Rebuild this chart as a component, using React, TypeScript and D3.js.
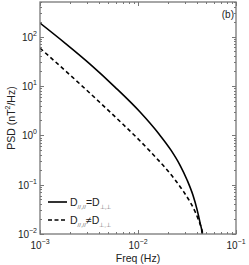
import React from "react";
import * as d3 from "d3";

// solid curve: D//,// = D⊥,⊥
const freqA = [0.001, 0.0018, 0.00324, 0.00582, 0.0105, 0.01637, 0.0217, 0.0268, 0.0316, 0.0364, 0.04, 0.043, 0.0452, 0.0454];
const psdA = [187, 73.5, 27.6, 9.46, 2.95, 1.06, 0.499, 0.249, 0.1256, 0.0607, 0.0316, 0.01687, 0.01, 0.008];

// dashed curve: D//,// ≠ D⊥,⊥
const freqB = [0.001, 0.00256, 0.00409, 0.00703, 0.0105, 0.01325, 0.0156, 0.0189, 0.0239, 0.0288, 0.034, 0.0382, 0.0419, 0.044, 0.0457, 0.0459];
const psdB = [58.2, 10.9, 4.61, 1.667, 0.767, 0.476, 0.336, 0.221, 0.125, 0.0749, 0.0445, 0.0285, 0.01824, 0.0138, 0.01, 0.008];

const xMajor = [-3, -2, -1];
const yMajor = [-2, -1, 0, 1, 2];

const W = 249;
const H = 265;
const M = { left: 40, right: 13, top: 2, bottom: 31 };
const AXIS = "#777";
const TEXT = "#222";
const FONT = "'Liberation Sans', Arial, sans-serif";

export default function App() {
  const x = d3.scaleLog().domain([1e-3, 1e-1]).range([M.left, W - M.right]);
  const y = d3.scaleLog().domain([1e-2, 500]).range([H - M.bottom, M.top]);
  const [x0, x1] = x.range();
  const [y0, y1] = y.range();

  const line = d3
    .line<[number, number]>()
    .x((d) => x(d[0]))
    .y((d) => y(d[1]))
    .curve(d3.curveMonotoneX);

  const isMajor = (v: number) => Math.abs(Math.log10(v) - Math.round(Math.log10(v))) < 1e-6;

  const legend = [
    { dash: "none", sym: "=", yy: 202 },
    { dash: "4,2.5", sym: "≠", yy: 220 },
  ];

  return (
    <svg width={W} height={H} style={{ position: "absolute", left: 0, top: 0 }} fontFamily={FONT}>
      <defs>
        <clipPath id="plot">
          <rect x={x0} y={y1} width={x1 - x0} height={y0 - y1} />
        </clipPath>
      </defs>
      <rect width={W} height={H} fill="#fff" />

      <g clipPath="url(#plot)" fill="none" stroke="#000" strokeWidth={1.6}>
        <path d={line(freqA.map((f, i) => [f, psdA[i]])) || ""} />
        <path d={line(freqB.map((f, i) => [f, psdB[i]])) || ""} strokeDasharray="4,3" />
      </g>

      {/* ticks, all four sides, inward */}
      <g stroke={AXIS} strokeWidth={1}>
        {x.ticks().map((t, i) => {
          const len = isMajor(t) ? 4 : 2;
          const px = Math.round(x(t)) + 0.5;
          return (
            <g key={"xt" + i}>
              <line x1={px} x2={px} y1={y0} y2={y0 - len} />
              <line x1={px} x2={px} y1={y1} y2={y1 + len} />
            </g>
          );
        })}
        {y.ticks().map((t, i) => {
          const len = isMajor(t) ? 4 : 2;
          const py = Math.round(y(t)) + 0.5;
          return (
            <g key={"yt" + i}>
              <line x1={x0} x2={x0 + len} y1={py} y2={py} />
              <line x1={x1} x2={x1 - len} y1={py} y2={py} />
            </g>
          );
        })}
      </g>
      <rect x={x0} y={y1} width={x1 - x0} height={y0 - y1} fill="none" stroke={AXIS} strokeWidth={1.3} />

      {/* x tick labels */}
      {xMajor.map((e) => (
        <text key={"xl" + e} x={x(Math.pow(10, e))} y={y0 + 15} fontSize={10} fill={TEXT} textAnchor="middle">
          10<tspan fontSize={7} dy={-5}>{e < 0 ? "−" + -e : e}</tspan>
        </text>
      ))}
      {/* y tick labels */}
      {yMajor.map((e) => (
        <text key={"yl" + e} x={x0 - 3} y={y(Math.pow(10, e)) + 4} fontSize={10} fill={TEXT} textAnchor="end">
          10<tspan fontSize={7} dy={-5}>{e < 0 ? "−" + -e : e}</tspan>
        </text>
      ))}

      <text x={(x0 + x1) / 2} y={H - 3} fontSize={10.5} fill={TEXT} textAnchor="middle">
        Freq (Hz)
      </text>
      <text
        transform={`translate(15,${(y0 + y1) / 2}) rotate(-90)`}
        fontSize={10.5}
        fill={TEXT}
        textAnchor="middle"
      >
        PSD (nT<tspan fontSize={7} dy={-5}>2</tspan>
        <tspan dy={5}>/Hz)</tspan>
      </text>
      <text x={x1 - 2} y={y1 + 16} fontSize={10} fill={TEXT} textAnchor="end">
        (b)
      </text>

      {/* legend */}
      {legend.map((l, i) => (
        <g key={"lg" + i}>
          <line x1={48} x2={67} y1={l.yy} y2={l.yy} stroke="#000" strokeWidth={1.6} strokeDasharray={l.dash} />
          <text x={70} y={l.yy + 4} fontSize={10.5} fill={TEXT}>
            D
            <tspan fontSize={6} fill="#666" dy={3}>//,//</tspan>
            <tspan dy={-3}>{l.sym}D</tspan>
            <tspan fontSize={6} fill="#666" dy={3}>⊥,⊥</tspan>
          </text>
        </g>
      ))}
    </svg>
  );
}
